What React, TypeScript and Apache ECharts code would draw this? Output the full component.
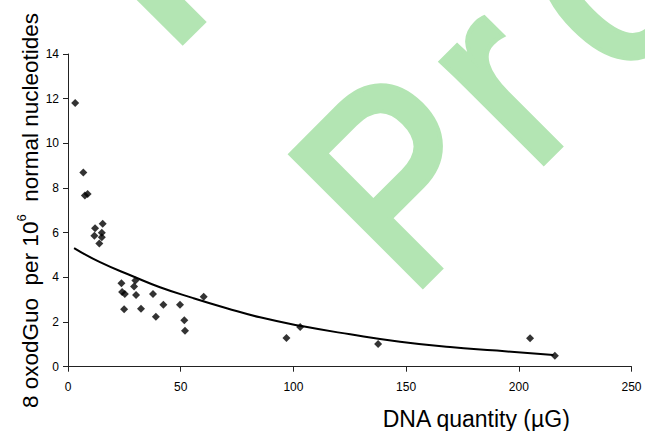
import React, { useEffect, useRef } from "react";
import * as echarts from "echarts";

const dnaQuantity = [3.2, 6.8, 7.5, 8.7, 12.0, 15.4, 11.7, 15.0, 15.0, 13.9, 23.7, 24.0, 25.2, 24.9, 29.9, 29.3, 30.2, 32.4, 37.7, 42.3, 39.0, 49.7, 51.6, 51.9, 60.2, 96.9, 103.0, 137.6, 205.0, 216.0];
const oxodGuo = [11.81, 8.69, 7.67, 7.73, 6.2, 6.4, 5.86, 6.0, 5.8, 5.52, 3.74, 3.34, 3.25, 2.57, 3.86, 3.59, 3.21, 2.6, 3.25, 2.77, 2.24, 2.77, 2.08, 1.61, 3.13, 1.29, 1.78, 1.02, 1.27, 0.49];

const trendX = [2.7, 14.2, 29, 40.8, 55.6, 70.4, 85.2, 103, 125.2, 147.3, 169.5, 190.3, 215.4];
const trendY = [5.31, 4.68, 4.04, 3.56, 3.07, 2.62, 2.21, 1.83, 1.45, 1.12, 0.88, 0.72, 0.52];

const xTicks = { min: 0, max: 250, interval: 50 };
const yTicks = { min: 0, max: 14, interval: 2 };

const FONT = "'Liberation Sans', Arial, sans-serif";
const WM = "#b3e5b3";

export default function App() {
  const ref = useRef<HTMLDivElement>(null);
  useEffect(() => {
    if (!ref.current) return;
    const chart = echarts.init(ref.current, null, { renderer: "svg" });
    const pts = dnaQuantity.map((x, i) => [x, oxodGuo[i]]);
    const trend = trendX.map((x, i) => [x, trendY[i]]);
    const r45 = Math.PI / 4;
    const wmStyle = (t: string) => ({
      text: t,
      font: `265px ${FONT}`,
      fill: WM,
      stroke: WM,
      lineWidth: 9,
      align: "left",
      verticalAlign: "middle",
    });
    chart.setOption({
      animation: false,
      backgroundColor: "#fff",
      grid: { left: 68, right: 13.5, top: 54, bottom: 64.3, containLabel: false },
      xAxis: {
        type: "value",
        min: xTicks.min,
        max: xTicks.max,
        interval: xTicks.interval,
        splitLine: { show: false },
        axisLine: { lineStyle: { color: "#222", width: 1 } },
        axisTick: { show: true, length: 5, lineStyle: { color: "#222" } },
        axisLabel: { color: "#000", fontSize: 12, fontFamily: FONT, margin: 14 },
      },
      yAxis: {
        type: "value",
        min: yTicks.min,
        max: yTicks.max,
        interval: yTicks.interval,
        splitLine: { show: false },
        axisLine: { show: true, lineStyle: { color: "#222", width: 1 } },
        axisTick: { show: true, length: 5, lineStyle: { color: "#222" } },
        axisLabel: { color: "#000", fontSize: 12, fontFamily: FONT, margin: 9 },
      },
      graphic: [
        {
          type: "polygon",
          z: -10,
          shape: { points: [[136.7, 0], [182.7, 45.7], [206.7, 22], [184.7, 0]] },
          style: { fill: WM },
        },
        { type: "text", z: -10, x: 344, y: 232, rotation: r45, scaleX: 0.88, style: wmStyle("P") },
        { type: "text", z: -10, x: 467, y: 107, rotation: r45, scaleX: 0.88, style: wmStyle("r") },
        { type: "text", z: -10, x: 553, y: 19, rotation: r45, scaleX: 0.88, style: wmStyle("o") },
        {
          type: "text",
          x: 30,
          y: 210.5,
          rotation: Math.PI / 2,
          style: {
            text: "{a|8 oxodGuo  per 10}{s|6}{a|  normal nucleotides}",
            align: "center",
            verticalAlign: "middle",
            rich: {
              a: { fontSize: 22.5, fontFamily: FONT, lineHeight: 30, fill: "#000", color: "#000" },
              s: { fontSize: 13, fontFamily: FONT, lineHeight: 13, verticalAlign: "top", fill: "#000", color: "#000" },
            },
          },
        },
        {
          type: "text",
          x: 382.7,
          y: 419,
          style: {
            text: "DNA quantity (µG)",
            font: `23px ${FONT}`,
            fill: "#000",
            align: "left",
            verticalAlign: "middle",
          },
        },
      ],
      series: [
        {
          type: "line",
          data: trend,
          smooth: true,
          showSymbol: false,
          symbol: "none",
          lineStyle: { color: "#000", width: 2 },
          z: 3,
        },
        {
          type: "scatter",
          data: pts,
          symbol: "diamond",
          symbolSize: [8, 8],
          itemStyle: { color: "#000" },
          z: 4,
        },
      ],
    });
    return () => chart.dispose();
  }, []);
  return <div ref={ref} style={{ width: 645, height: 431, position: "absolute", left: 0, top: 0 }} />;
}
